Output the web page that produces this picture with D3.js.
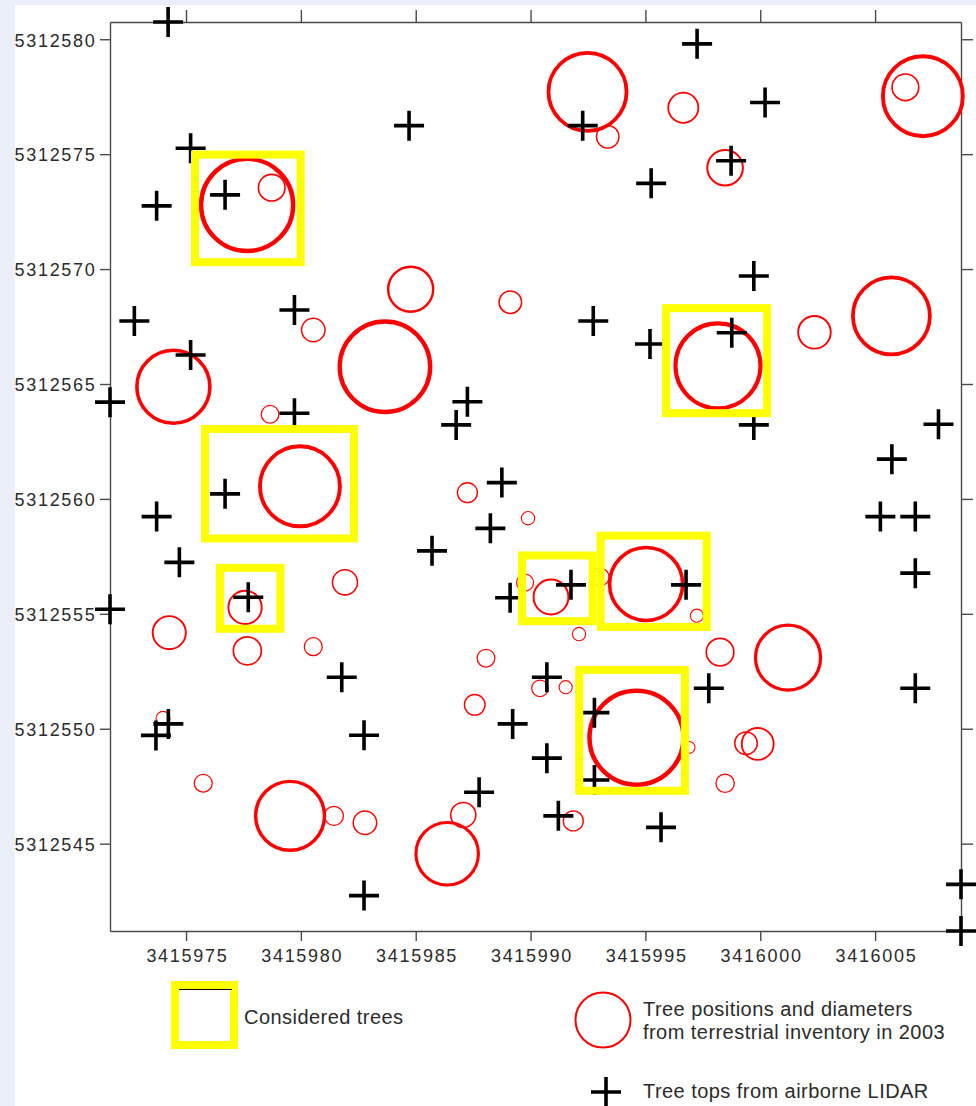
<!DOCTYPE html>
<html>
<head>
<meta charset="utf-8">
<script src="https://cdn.jsdelivr.net/npm/d3@7"></script>
<style>
  html, body { margin: 0; padding: 0; background: #EBEFF9; }
  svg { display: block; }
  text { font-family: "Liberation Sans", Arial, sans-serif; fill: #2b2b2b; }
</style>
</head>
<body>
<svg id="chart" width="976" height="1106"></svg>
<script>
// Axis ticks (UTM metres)
const eastTicks  = [3415975, 3415980, 3415985, 3415990, 3415995, 3416000, 3416005];
const northTicks = [5312580, 5312575, 5312570, 5312565, 5312560, 5312555, 5312550, 5312545];

// Tree tops detected from airborne LIDAR
const lidarEast = [
  3415974.22, 3415997.25, 3416000.21, 3415984.71, 3415992.27, 3415998.73, 3415995.25, 3415975.20,
  3415973.72, 3415976.70, 3415999.72, 3415972.75, 3415979.72, 3415975.20, 3415971.69, 3415979.72,
  3415992.73, 3415995.20, 3415998.76, 3415999.72, 3416007.76, 3416005.73, 3416005.23, 3416006.75,
  3416006.75, 3415987.25, 3415986.76, 3415988.75, 3415988.25, 3415985.71, 3415976.70, 3415973.72,
  3415974.71, 3415977.71, 3415971.69, 3415989.11, 3415991.76, 3415996.77, 3415981.78, 3415982.75,
  3415990.71, 3415989.22, 3415990.71, 3415992.78, 3415992.78, 3415987.76, 3415991.21, 3415982.75,
  3415995.68, 3415997.76, 3416006.75, 3416008.74, 3416008.74, 3415973.69, 3415974.23
];
const lidarNorth = [
  5312580.75, 5312579.80, 5312577.25, 5312576.24, 5312576.24, 5312574.71, 5312573.73, 5312575.26,
  5312572.75, 5312573.23, 5312569.70, 5312567.74, 5312568.22, 5312566.26, 5312564.21, 5312563.73,
  5312567.74, 5312566.74, 5312567.23, 5312563.22, 5312563.25, 5312561.73, 5312559.23, 5312559.23,
  5312556.77, 5312564.23, 5312563.22, 5312560.71, 5312558.72, 5312557.74, 5312560.22, 5312559.23,
  5312557.24, 5312555.72, 5312555.20, 5312555.70, 5312556.26, 5312556.26, 5312552.24, 5312549.72,
  5312552.24, 5312550.21, 5312548.72, 5312550.70, 5312547.77, 5312547.24, 5312546.21, 5312542.74,
  5312545.71, 5312551.76, 5312551.76, 5312543.23, 5312541.20, 5312549.71, 5312550.21
];

// Terrestrial inventory 2003: stem positions and diameters (m)
const treeEast = [
  3415977.66, 3415978.73, 3415992.48, 3415993.36, 3415996.65, 3415998.47, 3416007.08, 3416006.32,
  3415974.45, 3415978.66, 3415980.54, 3415979.96, 3415984.78, 3415983.66, 3415989.12, 3415987.25,
  3415989.89, 3415981.92, 3415998.16, 3416002.36, 3416005.71, 3415995.03, 3415997.24, 3415990.89,
  3415989.76, 3415993.03, 3415992.11, 3415988.06, 3415987.57, 3415990.41, 3415991.53, 3415994.61,
  3415987.07, 3415986.37, 3415991.86, 3415982.79, 3415981.44, 3415974.27, 3415977.67, 3415980.54,
  3415977.57, 3415975.75, 3415979.53, 3415974.00, 3415998.25, 3416001.21, 3415999.38, 3415999.89,
  3415998.47, 3415996.90
];
const treeNorth = [
  5312572.79, 5312573.54, 5312577.71, 5312575.76, 5312577.02, 5312574.41, 5312577.52, 5312577.91,
  5312564.88, 5312563.68, 5312567.35, 5312560.55, 5312569.12, 5312565.75, 5312568.56, 5312560.27,
  5312559.16, 5312556.37, 5312565.79, 5312567.25, 5312567.96, 5312556.30, 5312554.92, 5312555.73,
  5312556.36, 5312556.60, 5312554.12, 5312553.07, 5312551.04, 5312551.76, 5312551.81, 5312549.61,
  5312546.25, 5312544.56, 5312545.99, 5312545.91, 5312546.21, 5312554.18, 5312553.39, 5312553.57,
  5312555.28, 5312547.63, 5312546.21, 5312550.45, 5312553.33, 5312553.09, 5312549.37, 5312549.34,
  5312547.63, 5312549.19
];
const treeDiameter = [
  4.01, 1.16, 3.40, 0.98, 1.31, 1.55, 3.48, 1.16,
  3.18, 0.77, 1.02, 3.48, 1.96, 3.94, 0.98, 0.87,
  0.58, 1.09, 3.70, 1.42, 3.35, 3.18, 0.57, 1.52,
  0.74, 0.78, 0.58, 0.77, 0.90, 0.72, 0.57, 4.09,
  1.09, 2.72, 0.87, 1.02, 0.83, 1.44, 1.22, 0.78,
  1.45, 0.78, 3.00, 0.61, 1.20, 2.83, 0.98, 1.39,
  0.80, 0.52
];

// Considered trees: bounding frames (west, east, north, south)
const boxWest  = [3415975.39, 3415995.90, 3415975.83, 3415976.48, 3415989.63, 3415993.05, 3415992.12];
const boxEast  = [3415979.99, 3416000.30, 3415982.31, 3415979.11, 3415992.70, 3415997.67, 3415996.72];
const boxNorth = [5312574.98, 5312568.30, 5312563.04, 5312557.00, 5312557.54, 5312558.40, 5312552.56];
const boxSouth = [5312570.30, 5312563.73, 5312558.28, 5312554.35, 5312554.68, 5312554.43, 5312547.30];

const legendLabels = {
  box: "Considered trees",
  circle: ["Tree positions and diameters", "from terrestrial inventory in 2003"],
  cross: "Tree tops from airborne LIDAR"
};

const svg = d3.select("#chart");
const W = 976, H = 1106;
const plot = { left: 110, right: 961, top: 22, bottom: 931 };

// paper
svg.append("rect").attr("x", 15).attr("y", 5).attr("width", W - 15).attr("height", H - 5).attr("fill", "#fff");

const x = d3.scaleLinear().domain([3415971.69, 3416008.74]).range([plot.left, plot.right]);
const y = d3.scaleLinear().domain([5312580.75, 5312541.20]).range([plot.top, plot.bottom]);
const pxPerM = x(eastTicks[1]) - x(eastTicks[0]);

const axisColor = "#4a4a4a";
const labelSize = 18, labelSpacing = 1.7;

function styleAxis(g) {
  g.select(".domain").attr("stroke", axisColor).attr("stroke-width", 1.4);
  g.selectAll(".tick line").attr("stroke", axisColor).attr("stroke-width", 1.4);
  g.selectAll(".tick text")
    .attr("fill", "#2b2b2b")
    .style("font-family", '"Liberation Sans", Arial, sans-serif')
    .style("font-size", labelSize + "px")
    .style("letter-spacing", labelSpacing + "px");
}

// bottom axis with easting labels
svg.append("g")
  .attr("transform", `translate(0,${plot.bottom})`)
  .call(d3.axisBottom(x).tickValues(eastTicks).tickSize(10).tickSizeOuter(0).tickPadding(8).tickFormat(d3.format("d")))
  .call(styleAxis)
  .call(g => g.selectAll(".tick text").attr("dx", labelSpacing / 2));

// top axis, ticks only
svg.append("g")
  .attr("transform", `translate(0,${plot.top})`)
  .call(d3.axisTop(x).tickValues(eastTicks).tickSize(12).tickSizeOuter(0).tickFormat(""))
  .call(styleAxis);

// left axis with northing labels
svg.append("g")
  .attr("transform", `translate(${plot.left},0)`)
  .call(d3.axisLeft(y).tickValues(northTicks).tickSize(10).tickSizeOuter(0).tickPadding(3.5).tickFormat(d3.format("d")))
  .call(styleAxis)
  .call(g => g.selectAll(".tick text").attr("dy", "0.38em"));

// right axis, ticks only
svg.append("g")
  .attr("transform", `translate(${plot.right},0)`)
  .call(d3.axisRight(y).tickValues(northTicks).tickSize(12).tickSizeOuter(0).tickFormat(""))
  .call(styleAxis);

// terrestrial inventory circles: line weight grows with crown size
const trees = treeEast.map((e, i) => ({ e, n: treeNorth[i], d: treeDiameter[i] }));
const radius = d => (x(d.e + d.d / 2) - x(d.e));
svg.append("g").selectAll("circle").data(trees).join("circle")
  .attr("cx", d => x(d.e))
  .attr("cy", d => y(d.n))
  .attr("r", d => radius(d))
  .attr("fill", "none")
  .attr("stroke", "#ff0000")
  .attr("stroke-width", d => 0.5 + 0.085 * radius(d));

// LIDAR tree tops as plus markers
const arm = 15;
const plusPath = (cx, cy) => `M${cx - arm},${cy}H${cx + arm}M${cx},${cy - arm}V${cy + arm}`;
const tops = lidarEast.map((e, i) => ({ e, n: lidarNorth[i] }));
svg.append("g").selectAll("path").data(tops).join("path")
  .attr("d", d => plusPath(x(d.e), y(d.n)))
  .attr("stroke", "#000")
  .attr("stroke-width", 3.6)
  .attr("fill", "none");

// considered-tree frames
const boxes = boxWest.map((w, i) => ({ w, e: boxEast[i], n: boxNorth[i], s: boxSouth[i] }));
svg.append("g").selectAll("rect").data(boxes).join("rect")
  .attr("x", d => x(d.w))
  .attr("y", d => y(d.n))
  .attr("width", d => x(d.e) - x(d.w))
  .attr("height", d => y(d.s) - y(d.n))
  .attr("fill", "none")
  .attr("stroke", "#ffff00")
  .attr("stroke-width", 8);

// legend
const legend = svg.append("g");
const legendFont = g => g.style("font-size", "20px").style("letter-spacing", "0.45px");

legend.append("rect")
  .attr("x", 175).attr("y", 985).attr("width", 59).attr("height", 60)
  .attr("fill", "#fff").attr("stroke", "#ffff00").attr("stroke-width", 8);
legend.append("line")
  .attr("x1", 179).attr("x2", 232).attr("y1", 989.5).attr("y2", 989.5)
  .attr("stroke", "#000").attr("stroke-width", 1);
legend.append("text").attr("x", 244).attr("y", 1024).text(legendLabels.box).call(legendFont);

legend.append("circle")
  .attr("cx", 603).attr("cy", 1020).attr("r", 27.5)
  .attr("fill", "none").attr("stroke", "#ff0000").attr("stroke-width", 2);
legend.append("text").attr("x", 643).attr("y", 1016).text(legendLabels.circle[0]).call(legendFont);
legend.append("text").attr("x", 643).attr("y", 1039).text(legendLabels.circle[1]).call(legendFont);

legend.append("path")
  .attr("d", plusPath(606, 1092))
  .attr("stroke", "#000").attr("stroke-width", 3.6).attr("fill", "none");
legend.append("text").attr("x", 643).attr("y", 1098).text(legendLabels.cross).call(legendFont);
</script>
</body>
</html>
